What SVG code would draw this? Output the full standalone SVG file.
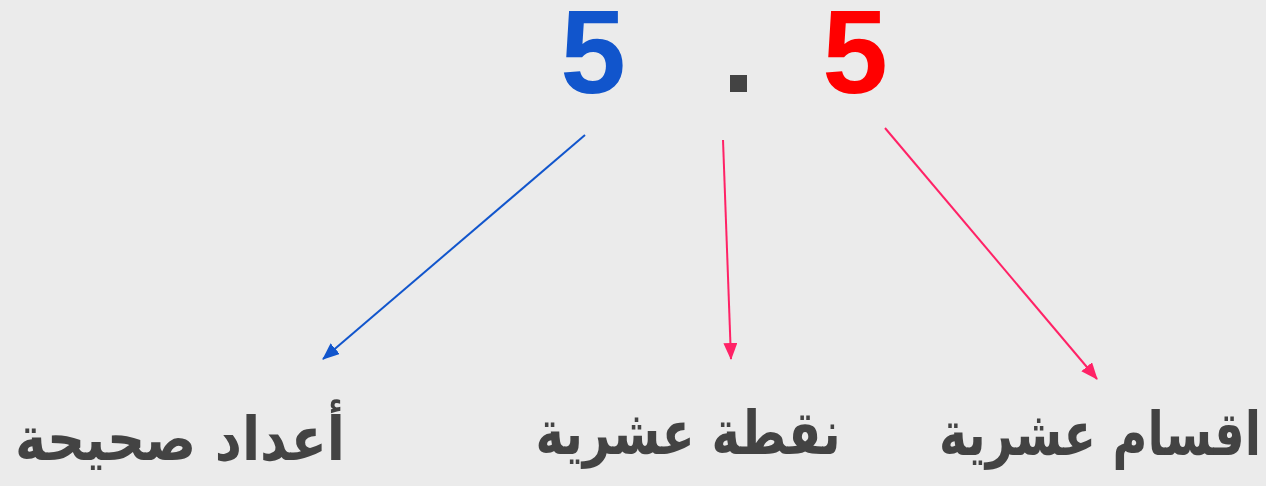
<svg xmlns="http://www.w3.org/2000/svg" width="1266" height="486" viewBox="0 0 1266 486">
<defs>
<style>
.digit{font-family:"Liberation Sans",Arial,sans-serif;font-weight:bold;font-size:118px;text-anchor:middle}
.label{font-family:"DejaVu Sans","Noto Sans",sans-serif;font-weight:bold;font-size:61px;fill:#434343;text-anchor:middle}
.conn{fill:none;stroke-width:2}
</style>
<marker id="ab" markerWidth="17" markerHeight="14" refX="16" refY="7" orient="auto" markerUnits="userSpaceOnUse" viewBox="0 0 17 14"><path d="M0,0 L17,7 L0,14 z" fill="#1155cc"/></marker>
<marker id="ap" markerWidth="17" markerHeight="14" refX="16" refY="7" orient="auto" markerUnits="userSpaceOnUse" viewBox="0 0 17 14"><path d="M0,0 L17,7 L0,14 z" fill="#ff2266"/></marker>
</defs>
<rect width="1266" height="486" fill="#ebebeb"/>
<g id="int-digit"><text class="digit" x="593" y="93" fill="#1155cc">5</text></g>
<g id="point"><rect x="730" y="75" width="17" height="17" fill="#434343"/></g>
<g id="dec-digit"><text class="digit" x="855" y="93" fill="#ff0000">5</text></g>
<g id="label-int"><text class="label" x="180" y="460" direction="rtl" textLength="330" lengthAdjust="spacingAndGlyphs">أعداد صحيحة</text></g>
<g id="label-point"><text class="label" x="688" y="454" direction="rtl" textLength="305" lengthAdjust="spacingAndGlyphs">نقطة عشرية</text></g>
<g id="label-dec"><text class="label" x="1100" y="455" direction="rtl" textLength="322" lengthAdjust="spacingAndGlyphs">اقسام عشرية</text></g>
<g id="connectors">
<line class="conn" x1="585" y1="135" x2="323" y2="359" stroke="#1155cc" marker-end="url(#ab)"/>
<line class="conn" x1="723" y1="140" x2="731" y2="359" stroke="#ff2266" marker-end="url(#ap)"/>
<line class="conn" x1="885" y1="128" x2="1097" y2="379" stroke="#ff2266" marker-end="url(#ap)"/>
</g>
</svg>
